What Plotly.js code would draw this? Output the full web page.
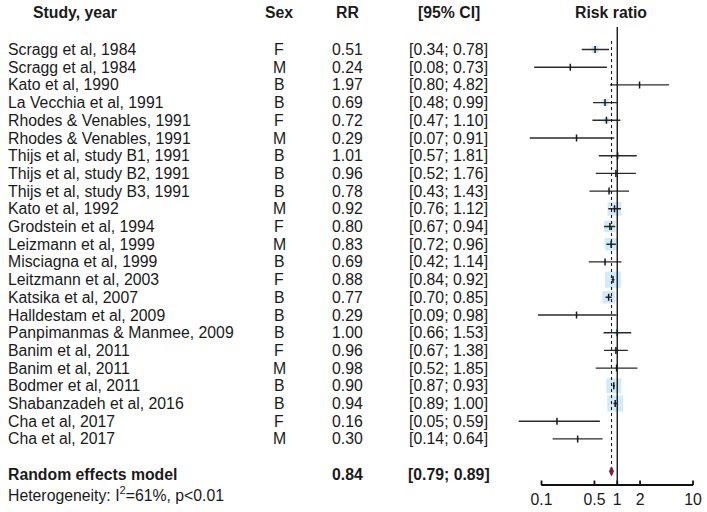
<!DOCTYPE html>
<html>
<head>
<meta charset="utf-8">
<script src="https://cdn.plot.ly/plotly-3.0.1.min.js"></script>
<style>html,body{margin:0;padding:0;background:#fff;}#chart{width:707px;height:512px;}</style>
</head>
<body>
<div id="chart"></div>
<script>
const studies = ["Scragg et al, 1984","Scragg et al, 1984","Kato et al, 1990","La Vecchia et al, 1991","Rhodes & Venables, 1991","Rhodes & Venables, 1991","Thijs et al, study B1, 1991","Thijs et al, study B2, 1991","Thijs et al, study B3, 1991","Kato et al, 1992","Grodstein et al, 1994","Leizmann et al, 1999","Misciagna et al, 1999","Leitzmann et al, 2003","Katsika et al, 2007","Halldestam et al, 2009","Panpimanmas & Manmee, 2009","Banim et al, 2011","Banim et al, 2011","Bodmer et al, 2011","Shabanzadeh et al, 2016","Cha et al, 2017","Cha et al, 2017"];
const sex = ["F","M","B","B","F","M","B","B","B","M","F","M","B","F","B","B","B","F","M","B","B","F","M"];
const rr = [0.51,0.24,1.97,0.69,0.72,0.29,1.01,0.96,0.78,0.92,0.80,0.83,0.69,0.88,0.77,0.29,1.00,0.96,0.98,0.90,0.94,0.16,0.30];
const lower = [0.34,0.08,0.80,0.48,0.47,0.07,0.57,0.52,0.43,0.76,0.67,0.72,0.42,0.84,0.70,0.09,0.66,0.67,0.52,0.87,0.89,0.05,0.14];
const upper = [0.78,0.73,4.82,0.99,1.10,0.91,1.81,1.76,1.43,1.12,0.94,0.96,1.14,0.92,0.85,0.98,1.53,1.38,1.85,0.93,1.00,0.59,0.64];
const weightBox = [6,2,2,6,5,1,3,3,3,12,10,11,3,14,11,1,4,4,2,13,14,1,2];
const pooled = {rr:0.84, lower:0.79, upper:0.89};
const pooledLabel = "Random effects model";
const heterogeneity = "Heterogeneity: I<sup>2</sup>=61%, p<0.01";
const headers = {study:"Study, year", sex:"Sex", rr:"RR", ci:"[95% CI]", plot:"Risk ratio"};
const tickVals = [0.1,0.5,1,2,10];
const tickText = ["0.1","0.5","1","2","10"];

// layout geometry (plot area covers the whole page; rows are indices)
const W = 707, H = 512;
const ROW0 = 49.5, ROWH = 17.7;
const AXIS_PX = 485;
const pxToIdx = p => (p - ROW0) / ROWH;
const yTop = pxToIdx(0), yBot = pxToIdx(H);
const n = studies.length;
const pooledRow = n + 1;
const headerRow = pxToIdx(12.5);
const hetRow = pxToIdx(494);
const axisRow = pxToIdx(AXIS_PX);
const tickLabelRow = pxToIdx(501);
const FS = 15.8;
const txtColor = "#1a1a1a";
const fontFam = "Liberation Sans, Arial, sans-serif";

const rows = studies.map((s,i)=>i);
const fmt = v => v.toFixed(2);

// whiskers
const wx = [], wy = [];
rows.forEach(i => { wx.push(lower[i], upper[i], null); wy.push(i, i, null); });

// axis line + tick marks as one line trace
const ax = [tickVals[0], tickVals[tickVals.length-1], null], ay = [axisRow, axisRow, null];
tickVals.forEach(v => { ax.push(v, v, null); ay.push(axisRow, axisRow - 4.5 / ROWH, null); });

const traces = [
  {x: rr, y: rows, type:"scatter", mode:"markers", hoverinfo:"skip",
   marker:{symbol:"square", size: weightBox.map(w => w * 1.15), color:"#bfe2f6", line:{width:0}}},
  {x: wx, y: wy, type:"scatter", mode:"lines", hoverinfo:"skip",
   line:{color:"#2a2a2a", width:1.4}},
  {x: rr, y: rows, type:"scatter", mode:"markers", hoverinfo:"skip",
   marker:{symbol:"line-ns-open", size:5, color:"#1a1a1a", line:{color:"#1a1a1a", width:1.5}}},
  // line of no effect
  {x:[1,1], y:[pxToIdx(27), axisRow], type:"scatter", mode:"lines", hoverinfo:"skip",
   line:{color:"#1a1a1a", width:1.4}},
  // pooled estimate dotted line
  {x:[pooled.rr, pooled.rr], y:[pxToIdx(41), pooledRow - 0.25], type:"scatter", mode:"lines", hoverinfo:"skip",
   line:{color:"#1a1a1a", width:1.1, dash:"dot"}},
  // diamond
  {x:[pooled.lower, pooled.rr, pooled.upper, pooled.rr, pooled.lower],
   y:[pooledRow-0.17, pooledRow-0.42, pooledRow-0.17, pooledRow+0.08, pooledRow-0.17],
   type:"scatter", mode:"lines", fill:"toself", fillcolor:"#7d1f3c", hoverinfo:"skip",
   line:{color:"#7d1f3c", width:1}},
  // axis line and ticks
  {x: ax, y: ay, type:"scatter", mode:"lines", hoverinfo:"skip", connectgaps:false,
   line:{color:"#111111", width:1.8}},
  // tick labels
  {x: tickVals, y: tickVals.map(() => tickLabelRow), text: tickText,
   type:"scatter", mode:"text", textposition:"middle center", hoverinfo:"skip", cliponaxis:false,
   textfont:{family:fontFam, size:FS, color:txtColor}}
];

const ann = [];
const add = (x, y, text, anchor, bold) => ann.push({
  xref:"paper", yref:"y", x: x / W, y: y, text: bold ? "<b>"+text+"</b>" : text,
  showarrow:false, xanchor: anchor, yanchor:"middle",
  font:{family:fontFam, size:FS, color:txtColor}
});
add(75, headerRow, headers.study, "center", true);
add(279, headerRow, headers.sex, "center", true);
add(347, headerRow, headers.rr, "center", true);
add(449, headerRow, headers.ci, "center", true);
add(611, headerRow, headers.plot, "center", true);
rows.forEach(i => {
  add(6, i, studies[i], "left", false);
  add(279, i, sex[i], "center", false);
  add(347, i, fmt(rr[i]), "center", false);
  add(449, i, "[" + fmt(lower[i]) + "; " + fmt(upper[i]) + "]", "center", false);
});
add(6, pooledRow, pooledLabel, "left", true);
add(347, pooledRow, fmt(pooled.rr), "center", true);
add(449, pooledRow, "[" + fmt(pooled.lower) + "; " + fmt(pooled.upper) + "]", "center", true);
add(6, hetRow, heterogeneity, "left", false);

// x axis: 0.1 -> 541.5px, 10 -> 693px
const p01 = 541.5, p10 = 693;
const perDec = (p10 - p01) / 2;
const xr = [-1.5, 1.1];
const left = p01 + (xr[0] + 1) * perDec;
const right = p01 + (xr[1] + 1) * perDec;

// backup axis line drawn as a paper shape
const axisYPaper = 1 - AXIS_PX / H;
const shapes = [{type:"line", xref:"paper", yref:"paper", layer:"above",
  x0: p01 / W, x1: p10 / W, y0: axisYPaper, y1: axisYPaper, line:{color:"#111111", width:1.8}}];

const layout = {
  width: W, height: H,
  margin:{l:0, r:0, t:0, b:0, pad:0},
  paper_bgcolor:"#fff", plot_bgcolor:"rgba(0,0,0,0)",
  showlegend:false,
  font:{family:fontFam, color:txtColor},
  xaxis:{type:"log", range: xr, domain:[left/W, right/W], visible:false, showgrid:false, zeroline:false, fixedrange:true},
  yaxis:{range:[yBot, yTop], visible:false, showgrid:false, zeroline:false, fixedrange:true},
  shapes: shapes,
  annotations: ann
};

Plotly.newPlot("chart", traces, layout, {staticPlot:true, displayModeBar:false});
</script>
</body>
</html>
